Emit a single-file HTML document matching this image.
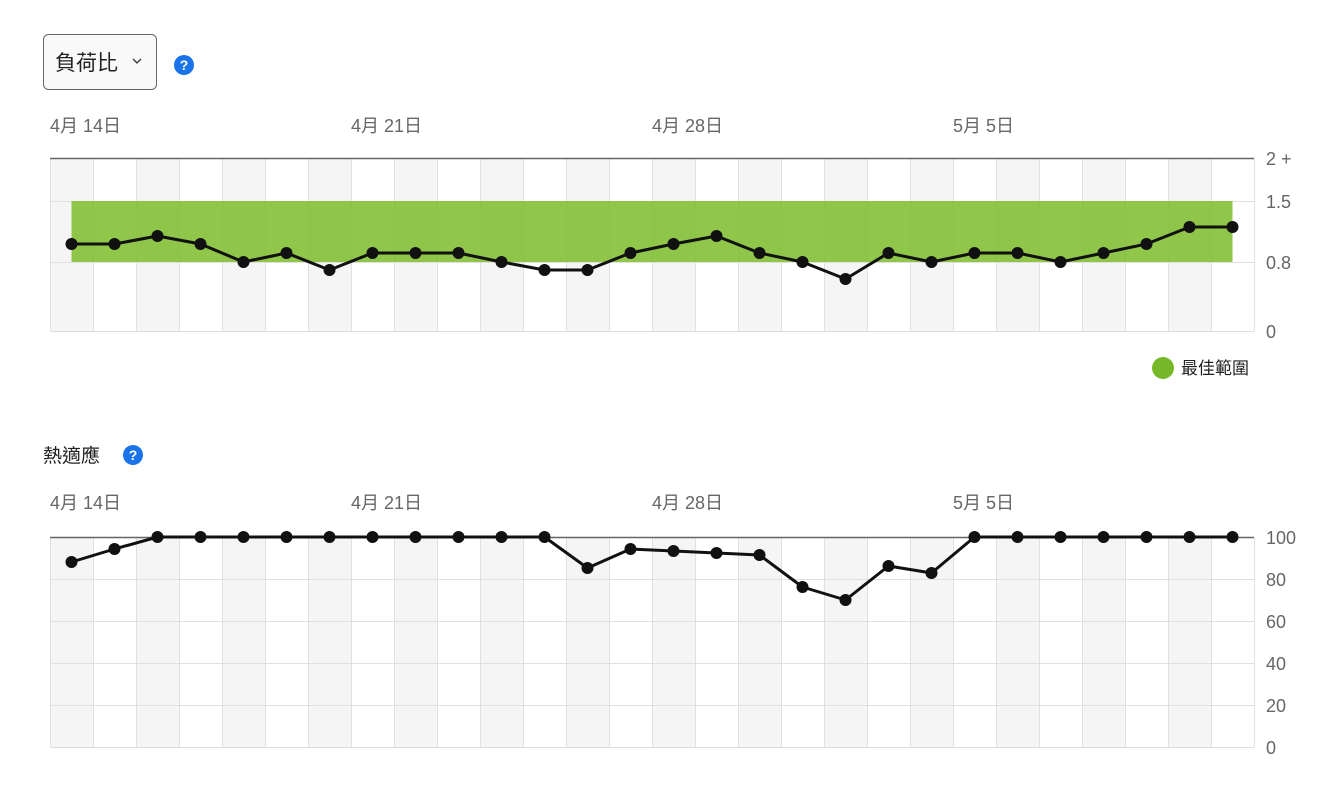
<!DOCTYPE html>
<html><head><meta charset="utf-8"><style>
body{margin:0;background:#fff;width:1336px;height:800px;overflow:hidden;font-family:"Liberation Sans","Noto Sans CJK TC",sans-serif}
svg text{font-family:"Liberation Sans","Noto Sans CJK TC",sans-serif}
</style></head><body>
<svg width="1336" height="800" xmlns="http://www.w3.org/2000/svg">
<rect x="43.5" y="34.5" width="113" height="55" rx="5" fill="#f9f9f9" stroke="#666"/>
<text x="55" y="70" font-size="21" fill="#222">負荷比</text>
<path d="M133 59 l4 4 l4 -4" stroke="#333" fill="none" stroke-width="1.3"/>
<circle cx="184" cy="65" r="10" fill="#1a73e8"/><text x="184" y="70" font-size="14" font-weight="bold" fill="#fff" text-anchor="middle">?</text>
<text x="43" y="462" font-size="19" fill="#222">熱適應</text>
<circle cx="133" cy="455" r="10" fill="#1a73e8"/><text x="133" y="460" font-size="14" font-weight="bold" fill="#fff" text-anchor="middle">?</text>
<g font-size="18" fill="#666">
<text x="50" y="132">4月 14日</text><text x="351" y="132">4月 21日</text><text x="652" y="132">4月 28日</text><text x="953" y="132">5月 5日</text>
<text x="50" y="509">4月 14日</text><text x="351" y="509">4月 21日</text><text x="652" y="509">4月 28日</text><text x="953" y="509">5月 5日</text>
</g>
<g id="cols"></g>
<g font-size="18" fill="#666">
<text x="1266" y="165">2 +</text><text x="1266" y="208">1.5</text><text x="1266" y="269">0.8</text><text x="1266" y="338">0</text>
<text x="1266" y="544">100</text><text x="1266" y="586">80</text><text x="1266" y="628">60</text><text x="1266" y="670">40</text><text x="1266" y="712">20</text><text x="1266" y="754">0</text>
</g>
<circle cx="1163" cy="368" r="11" fill="#76b82a"/>
<text x="1181" y="374" font-size="17" fill="#222">最佳範圍</text>
</svg>
<script>
const s=document.querySelector('svg'),g=document.getElementById('cols'),NS='http://www.w3.org/2000/svg';
function el(t,a,p){const e=document.createElementNS(NS,t);for(const k in a)e.setAttribute(k,a[k]);(p||g).appendChild(e);return e;}
function chart(top,bot,hl){
 for(let i=0;i<28;i++){const x=50+i*43;if(i%2==0)el('rect',{x,y:top,width:43,height:bot-top,fill:'#f5f5f5'});}
 for(let i=0;i<=28;i++){const x=50.5+i*43;el('line',{x1:x,x2:x,y1:top,y2:bot,stroke:'#e0e0e0'});}
 hl.forEach(y=>el('line',{x1:50,x2:1254,y1:y+.5,y2:y+.5,stroke:'#e0e0e0'}));
 el('line',{x1:50,x2:1254,y1:bot+.5,y2:bot+.5,stroke:'#ddd'});
 el('line',{x1:50,x2:1254,y1:top+.5,y2:top+.5,stroke:'#666','stroke-width':1.5});
}
function series(ys){const pts=ys.map((y,i)=>[71.5+i*43,y]);
 el('polyline',{points:pts.map(p=>p.join(',')).join(' '),fill:'none',stroke:'#111','stroke-width':3,'stroke-linejoin':'round'});
 pts.forEach(p=>el('circle',{cx:p[0],cy:p[1],r:6,fill:'#111'}));}
chart(158,331,[201,262]);
el('rect',{x:71.5,y:201,width:1161,height:61,fill:'#7dbd2a',opacity:0.85});
series([244,244,236,244,262,253,270,253,253,253,262,270,270,253,244,236,253,262,279,253,262,253,253,262,253,244,227,227]);
chart(537,747,[579,621,663,705]);
series([562,549,537,537,537,537,537,537,537,537,537,537,568,549,551,553,555,587,600,566,573,537,537,537,537,537,537,537]);
</script>
</body></html>
